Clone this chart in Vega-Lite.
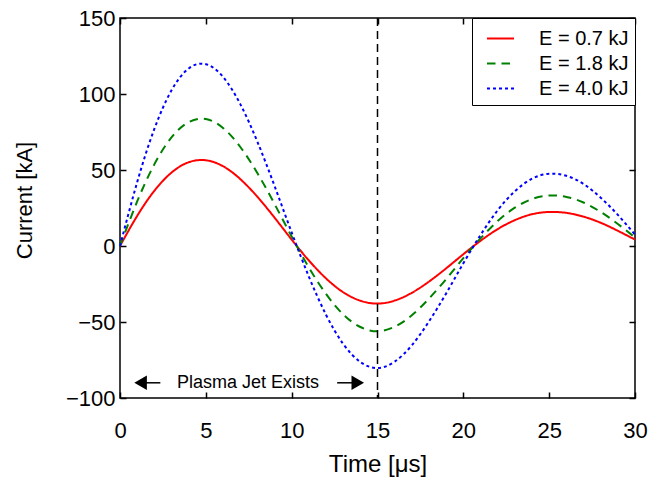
{
  "$schema": "https://vega.github.io/schema/vega-lite/v6.json",
  "width": 515,
  "height": 380,
  "autosize": {"type": "none"},
  "padding": {"left": 120, "top": 18, "right": 14, "bottom": 82},
  "background": "white",
  "config": {
    "view": {"stroke": "black", "strokeWidth": 1.5},
    "font": "Liberation Sans",
    "axis": {
      "grid": false,
      "domain": false,
      "tickColor": "black",
      "tickWidth": 1.5,
      "tickSize": -6,
      "labelFlush": false,
      "labelOverlap": false,
      "labelFont": "Liberation Sans",
      "labelFontSize": 22,
      "labelColor": "black",
      "titleFont": "Liberation Sans",
      "titleFontSize": 23,
      "titleFontWeight": "normal",
      "titleColor": "black"
    },
    "legend": {
      "strokeColor": "black",
      "fillColor": "white",
      "cornerRadius": 0
    }
  },
  "datasets": {
    "curves": [
      {"t": 0, "I": 0, "E": "E = 0.7 kJ"},
      {"t": 1, "I": 19.8, "E": "E = 0.7 kJ"},
      {"t": 2, "I": 36.3, "E": "E = 0.7 kJ"},
      {"t": 3, "I": 48.3, "E": "E = 0.7 kJ"},
      {"t": 4, "I": 55.1, "E": "E = 0.7 kJ"},
      {"t": 5, "I": 56.4, "E": "E = 0.7 kJ"},
      {"t": 6, "I": 52.5, "E": "E = 0.7 kJ"},
      {"t": 7, "I": 44.1, "E": "E = 0.7 kJ"},
      {"t": 8, "I": 32.4, "E": "E = 0.7 kJ"},
      {"t": 9, "I": 18.7, "E": "E = 0.7 kJ"},
      {"t": 10, "I": 4.2, "E": "E = 0.7 kJ"},
      {"t": 11, "I": -9.5, "E": "E = 0.7 kJ"},
      {"t": 12, "I": -21.3, "E": "E = 0.7 kJ"},
      {"t": 13, "I": -30.4, "E": "E = 0.7 kJ"},
      {"t": 14, "I": -36.0, "E": "E = 0.7 kJ"},
      {"t": 15, "I": -37.9, "E": "E = 0.7 kJ"},
      {"t": 16, "I": -35.9, "E": "E = 0.7 kJ"},
      {"t": 17, "I": -30.8, "E": "E = 0.7 kJ"},
      {"t": 18, "I": -23.4, "E": "E = 0.7 kJ"},
      {"t": 19, "I": -14.7, "E": "E = 0.7 kJ"},
      {"t": 20, "I": -5.4, "E": "E = 0.7 kJ"},
      {"t": 21, "I": 3.4, "E": "E = 0.7 kJ"},
      {"t": 22, "I": 11.1, "E": "E = 0.7 kJ"},
      {"t": 23, "I": 17.0, "E": "E = 0.7 kJ"},
      {"t": 24, "I": 20.9, "E": "E = 0.7 kJ"},
      {"t": 25, "I": 22.4, "E": "E = 0.7 kJ"},
      {"t": 26, "I": 21.8, "E": "E = 0.7 kJ"},
      {"t": 27, "I": 19.3, "E": "E = 0.7 kJ"},
      {"t": 28, "I": 15.3, "E": "E = 0.7 kJ"},
      {"t": 29, "I": 10.0, "E": "E = 0.7 kJ"},
      {"t": 30, "I": 4.2, "E": "E = 0.7 kJ"},
      {"t": 0, "I": 0, "E": "E = 1.8 kJ"},
      {"t": 1, "I": 29.3, "E": "E = 1.8 kJ"},
      {"t": 2, "I": 53.7, "E": "E = 1.8 kJ"},
      {"t": 3, "I": 71.5, "E": "E = 1.8 kJ"},
      {"t": 4, "I": 81.5, "E": "E = 1.8 kJ"},
      {"t": 5, "I": 83.5, "E": "E = 1.8 kJ"},
      {"t": 6, "I": 77.7, "E": "E = 1.8 kJ"},
      {"t": 7, "I": 65.3, "E": "E = 1.8 kJ"},
      {"t": 8, "I": 48.0, "E": "E = 1.8 kJ"},
      {"t": 9, "I": 27.7, "E": "E = 1.8 kJ"},
      {"t": 10, "I": 6.2, "E": "E = 1.8 kJ"},
      {"t": 11, "I": -14.1, "E": "E = 1.8 kJ"},
      {"t": 12, "I": -31.5, "E": "E = 1.8 kJ"},
      {"t": 13, "I": -45.0, "E": "E = 1.8 kJ"},
      {"t": 14, "I": -53.3, "E": "E = 1.8 kJ"},
      {"t": 15, "I": -56.1, "E": "E = 1.8 kJ"},
      {"t": 16, "I": -53.1, "E": "E = 1.8 kJ"},
      {"t": 17, "I": -45.6, "E": "E = 1.8 kJ"},
      {"t": 18, "I": -34.6, "E": "E = 1.8 kJ"},
      {"t": 19, "I": -21.8, "E": "E = 1.8 kJ"},
      {"t": 20, "I": -8.0, "E": "E = 1.8 kJ"},
      {"t": 21, "I": 5.0, "E": "E = 1.8 kJ"},
      {"t": 22, "I": 16.4, "E": "E = 1.8 kJ"},
      {"t": 23, "I": 25.2, "E": "E = 1.8 kJ"},
      {"t": 24, "I": 30.9, "E": "E = 1.8 kJ"},
      {"t": 25, "I": 33.2, "E": "E = 1.8 kJ"},
      {"t": 26, "I": 32.3, "E": "E = 1.8 kJ"},
      {"t": 27, "I": 28.6, "E": "E = 1.8 kJ"},
      {"t": 28, "I": 22.4, "E": "E = 1.8 kJ"},
      {"t": 29, "I": 14.5, "E": "E = 1.8 kJ"},
      {"t": 30, "I": 5.6, "E": "E = 1.8 kJ"},
      {"t": 0, "I": 0, "E": "E = 4.0 kJ"},
      {"t": 1, "I": 42.0, "E": "E = 4.0 kJ"},
      {"t": 2, "I": 77.0, "E": "E = 4.0 kJ"},
      {"t": 3, "I": 102.4, "E": "E = 4.0 kJ"},
      {"t": 4, "I": 116.8, "E": "E = 4.0 kJ"},
      {"t": 5, "I": 119.6, "E": "E = 4.0 kJ"},
      {"t": 6, "I": 111.3, "E": "E = 4.0 kJ"},
      {"t": 7, "I": 93.5, "E": "E = 4.0 kJ"},
      {"t": 8, "I": 68.7, "E": "E = 4.0 kJ"},
      {"t": 9, "I": 39.6, "E": "E = 4.0 kJ"},
      {"t": 10, "I": 8.9, "E": "E = 4.0 kJ"},
      {"t": 11, "I": -20.1, "E": "E = 4.0 kJ"},
      {"t": 12, "I": -45.2, "E": "E = 4.0 kJ"},
      {"t": 13, "I": -64.4, "E": "E = 4.0 kJ"},
      {"t": 14, "I": -76.3, "E": "E = 4.0 kJ"},
      {"t": 15, "I": -80.3, "E": "E = 4.0 kJ"},
      {"t": 16, "I": -76.1, "E": "E = 4.0 kJ"},
      {"t": 17, "I": -65.3, "E": "E = 4.0 kJ"},
      {"t": 18, "I": -49.6, "E": "E = 4.0 kJ"},
      {"t": 19, "I": -31.2, "E": "E = 4.0 kJ"},
      {"t": 20, "I": -11.4, "E": "E = 4.0 kJ"},
      {"t": 21, "I": 7.2, "E": "E = 4.0 kJ"},
      {"t": 22, "I": 23.5, "E": "E = 4.0 kJ"},
      {"t": 23, "I": 36.0, "E": "E = 4.0 kJ"},
      {"t": 24, "I": 44.3, "E": "E = 4.0 kJ"},
      {"t": 25, "I": 47.5, "E": "E = 4.0 kJ"},
      {"t": 26, "I": 46.2, "E": "E = 4.0 kJ"},
      {"t": 27, "I": 40.8, "E": "E = 4.0 kJ"},
      {"t": 28, "I": 31.8, "E": "E = 4.0 kJ"},
      {"t": 29, "I": 20.5, "E": "E = 4.0 kJ"},
      {"t": 30, "I": 7.5, "E": "E = 4.0 kJ"}
    ],
    "arrows": [
      {"x1": 1.2, "x2": 2.35, "y": -90},
      {"x1": 12.65, "x2": 13.85, "y": -90}
    ],
    "heads": [
      {"t": 1.2, "y": -90, "dir": "left"},
      {"t": 13.85, "y": -90, "dir": "right"}
    ],
    "label": [
      {"t": 7.45, "y": -90, "text": "Plasma Jet Exists"}
    ],
    "vline": [
      {"t": 15}
    ]
  },
  "resolve": {"axis": {"x": "independent", "y": "independent"}},
  "layer": [
    {
      "data": {"name": "curves"},
      "mark": {"type": "line", "interpolate": "natural", "strokeWidth": 2, "strokeCap": "butt"},
      "encoding": {
        "x": {
          "field": "t", "type": "quantitative",
          "scale": {"domain": [0, 30], "nice": false, "zero": false},
          "axis": {"values": [0, 5, 10, 15, 20, 25, 30], "title": "Time [μs]", "titleFontSize": 24, "labelPadding": 28, "titleY": 66, "titleBaseline": "middle"}
        },
        "y": {
          "field": "I", "type": "quantitative",
          "scale": {"domain": [-100, 150], "nice": false, "zero": false},
          "axis": {"values": [-100, -50, 0, 50, 100, 150], "title": "Current [kA]", "titleFontSize": 22, "labelPadding": 11, "titleX": -96, "titleY": 182, "titleBaseline": "middle", "titleAngle": -90}
        },
        "color": {
          "field": "E", "type": "nominal",
          "scale": {"domain": ["E = 0.7 kJ", "E = 1.8 kJ", "E = 4.0 kJ"], "range": ["#ff0000", "#008000", "#0000ff"]},
          "legend": {
            "title": null, "orient": "top-right", "offset": 0,
            "symbolType": "stroke", "symbolSize": 729, "symbolStrokeWidth": 2, "symbolOffset": 8,
            "labelFont": "Liberation Sans", "labelFontSize": 20, "labelColor": "black",
            "labelOffset": 24, "rowPadding": 0, "padding": 6
          }
        },
        "strokeDash": {
          "field": "E", "type": "nominal",
          "scale": {"domain": ["E = 0.7 kJ", "E = 1.8 kJ", "E = 4.0 kJ"], "range": [[1, 0], [8.5, 6], [3, 3]]},
          "legend": {
            "title": null, "orient": "top-right", "offset": 0,
            "symbolType": "stroke", "symbolSize": 729, "symbolStrokeWidth": 2, "symbolOffset": 8,
            "labelFont": "Liberation Sans", "labelFontSize": 20, "labelColor": "black",
            "labelOffset": 24, "rowPadding": 0, "padding": 6
          }
        }
      }
    },
    {
      "data": {"name": "vline"},
      "mark": {"type": "rule", "color": "black", "strokeWidth": 1.5, "strokeDash": [8, 5]},
      "encoding": {
        "x": {"field": "t", "type": "quantitative", "scale": {"domain": [0, 30], "nice": false}, "axis": null}
      }
    },
    {
      "data": {"name": "arrows"},
      "mark": {"type": "rule", "color": "black", "strokeWidth": 1.5},
      "encoding": {
        "x": {"field": "x1", "type": "quantitative", "scale": {"domain": [0, 30], "nice": false}, "axis": null},
        "x2": {"field": "x2"},
        "y": {"field": "y", "type": "quantitative", "scale": {"domain": [-100, 150], "nice": false}, "axis": null}
      }
    },
    {
      "data": {"name": "heads"},
      "mark": {"type": "point", "filled": true, "color": "black", "opacity": 1, "size": 210},
      "encoding": {
        "x": {"field": "t", "type": "quantitative", "scale": {"domain": [0, 30], "nice": false}, "axis": null},
        "y": {"field": "y", "type": "quantitative", "scale": {"domain": [-100, 150], "nice": false}, "axis": null},
        "shape": {"field": "dir", "type": "nominal", "scale": {"domain": ["left", "right"], "range": ["triangle-left", "triangle-right"]}, "legend": null}
      }
    },
    {
      "data": {"name": "label"},
      "mark": {"type": "text", "font": "Liberation Sans", "fontSize": 18, "color": "black", "align": "center", "baseline": "middle"},
      "encoding": {
        "x": {"field": "t", "type": "quantitative", "scale": {"domain": [0, 30], "nice": false},
          "axis": {"orient": "top", "values": [0, 5, 10, 15, 20, 25, 30], "labels": false, "title": null}},
        "y": {"field": "y", "type": "quantitative", "scale": {"domain": [-100, 150], "nice": false},
          "axis": {"orient": "right", "values": [-100, -50, 0, 50, 100, 150], "labels": false, "title": null}},
        "text": {"field": "text"}
      }
    }
  ]
}
